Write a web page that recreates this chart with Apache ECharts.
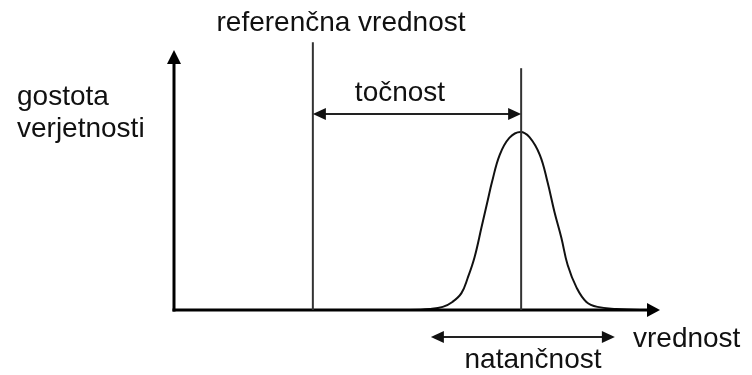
<!DOCTYPE html>
<html><head><meta charset="utf-8">
<script src="https://cdn.jsdelivr.net/npm/echarts@6/dist/echarts.min.js"></script>
<style>html,body{margin:0;padding:0;background:#fff}#c{width:752px;height:375px}</style>
</head><body><div id="c"></div>
<script>
// Curve points (x: value, y: probability density)
const curveX = [3.40, 3.68, 3.87, 4.01, 4.14, 4.23, 4.33, 4.43, 4.52, 4.58, 4.69, 4.83, 4.99,
                5.12, 5.27, 5.38, 5.48, 5.58, 5.67, 5.80, 5.94, 6.10, 6.37, 6.71];
const curveY = [0.000, 0.004, 0.012, 0.031, 0.065, 0.123, 0.204, 0.319, 0.423, 0.492, 0.596, 0.662, 0.685,
                0.665, 0.596, 0.492, 0.377, 0.277, 0.173, 0.085, 0.031, 0.012, 0.004, 0.000];
const axisXMax = 7;
const axisYMax = 1;
const referenceValue = 2;
const referenceLineTop = 1.03;
const meanValue = 5;
const meanLineTop = 0.93;
const accuracyArrowY = 0.754;
const precisionRange = [3.7, 6.35];
const precisionArrowY = -0.104;

const textReference = 'referenčna vrednost';
const textDensity = ['gostota', 'verjetnosti'];
const textAccuracy = 'točnost';
const textValue = 'vrednost';
const textPrecision = 'natančnost';

const chart = echarts.init(document.getElementById('c'), null, {renderer: 'canvas'});

function head(tip, from, len, wid, color) {
  const dx = tip[0] - from[0], dy = tip[1] - from[1];
  const d = Math.sqrt(dx * dx + dy * dy);
  const ux = dx / d, uy = dy / d;
  const bx = tip[0] - ux * len, by = tip[1] - uy * len;
  const px = -uy * wid / 2, py = ux * wid / 2;
  return {type: 'polygon', shape: {points: [tip, [bx + px, by + py], [bx - px, by - py]]},
          style: {fill: color}};
}
function seg(a, b, w, color) {
  return {type: 'line', shape: {x1: a[0], y1: a[1], x2: b[0], y2: b[1]},
          style: {stroke: color, lineWidth: w}};
}
function renderDiagram(params, api) {
  const c = [];
  const o = api.coord([0, 0]);
  const yTop = api.coord([0, axisYMax]);
  const xEnd = api.coord([axisXMax, 0]);
  // axes
  c.push(seg([o[0], o[1] + 1.5], [yTop[0], yTop[1] + 10], 3, '#000'));
  c.push(head(yTop, o, 14, 14, '#000'));
  c.push(seg([o[0] - 1.5, o[1]], [xEnd[0] - 10, xEnd[1]], 3, '#000'));
  c.push(head(xEnd, o, 13, 14, '#000'));
  // reference & mean lines
  c.push(seg(api.coord([referenceValue, 0]), api.coord([referenceValue, referenceLineTop]), 2, '#333'));
  c.push(seg(api.coord([meanValue, 0]), api.coord([meanValue, meanLineTop]), 2, '#333'));
  // accuracy arrow
  const a1 = api.coord([referenceValue, accuracyArrowY]);
  const a2 = api.coord([meanValue, accuracyArrowY]);
  c.push(seg([a1[0] + 8, a1[1]], [a2[0] - 8, a2[1]], 2, '#222'));
  c.push(head(a1, a2, 13, 12, '#111'));
  c.push(head(a2, a1, 13, 12, '#111'));
  // precision arrow
  const p1 = api.coord([precisionRange[0], precisionArrowY]);
  const p2 = api.coord([precisionRange[1], precisionArrowY]);
  c.push(seg([p1[0] + 8, p1[1]], [p2[0] - 8, p2[1]], 2, '#222'));
  c.push(head(p1, p2, 13, 12, '#111'));
  c.push(head(p2, p1, 13, 12, '#111'));
  return {type: 'group', children: c};
}

const font = {fontFamily: 'Liberation Sans', fontSize: 28, fill: '#111'};
function txt(s, x, y, align) {
  return {type: 'text', x: x, y: y,
          style: Object.assign({text: s, textAlign: align, textVerticalAlign: 'middle', align: align, verticalAlign: 'middle'}, font)};
}

chart.setOption({
  animation: false,
  backgroundColor: '#fff',
  grid: {left: 174, right: 92, top: 24, bottom: 0},
  xAxis: {type: 'value', min: 0, max: axisXMax, show: false},
  yAxis: {type: 'value', min: -0.25, max: 1.1, show: false},
  series: [
    {
      type: 'line', data: curveX.map((x, i) => [x, curveY[i]]), smooth: 0.4,
      symbol: 'none', lineStyle: {color: '#111', width: 2}, z: 1, silent: true
    },
    {
      type: 'custom', data: [[0, 0]], renderItem: renderDiagram, clip: false, z: 2, silent: true
    }
  ],
  graphic: [
    txt(textReference, 341, 23, 'center'),
    txt(textDensity[0], 17, 97, 'left'),
    txt(textDensity[1], 17, 129, 'left'),
    txt(textAccuracy, 400, 93, 'center'),
    txt(textValue, 633, 339, 'left'),
    txt(textPrecision, 533, 360, 'center')
  ]
});
</script></body></html>
